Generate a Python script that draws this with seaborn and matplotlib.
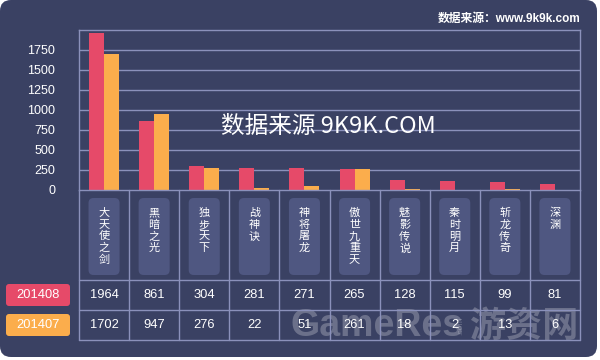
import numpy as np
import pandas as pd
import matplotlib
matplotlib.use("Agg")
import matplotlib.pyplot as plt
from matplotlib.patches import FancyBboxPatch
import seaborn as sns

categories = ['大天使之剑', '黑暗之光', '独步天下', '战神诀', '神将屠龙',
              '傲世九重天', '魅影传说', '秦时明月', '斩龙传奇', '深渊']
series_names = ['201408', '201407']
s201408 = [1964, 861, 304, 281, 271, 265, 128, 115, 99, 81]
s201407 = [1702, 947, 276, 22, 51, 261, 18, 2, 13, 6]
yticks = [0, 250, 500, 750, 1000, 1250, 1500, 1750]

RED = '#e64a69'
ORANGE = '#fbad4c'
BG = '#3a4163'
GRID = '#8b91bb'
BOX = '#4f5781'

sns.set_theme(style='white')
plt.rcParams['font.family'] = ['Liberation Sans', 'Noto Sans CJK SC', 'DejaVu Sans']

W, H = 600, 360
fig = plt.figure(figsize=(6, 3.6), dpi=100)
fig.patch.set_facecolor('white')

# background panel (pixel coordinates)
bg = fig.add_axes([0, 0, 1, 1])
bg.set_xlim(0, W)
bg.set_ylim(H, 0)
bg.axis('off')
bg.add_patch(FancyBboxPatch((0, 0), 597, 357,
                            boxstyle='round,pad=0,rounding_size=11',
                            fc=BG, ec='none'))

def px(x0, y0, x1, y1):
    return [x0 / W, 1 - y1 / H, (x1 - x0) / W, (y1 - y0) / H]

# main bar chart
ax = fig.add_axes(px(79, 30, 580, 190))
ax.set_facecolor('none')
df = pd.DataFrame({
    'game': categories * 2,
    'month': [series_names[0]] * len(categories) + [series_names[1]] * len(categories),
    'value': s201408 + s201407,
})
sns.barplot(data=df, x='game', y='value', hue='month', order=categories,
            hue_order=series_names, palette=[RED, ORANGE], width=0.6,
            saturation=1, legend=False, ax=ax, linewidth=0)
ax.set_xlim(-0.5, len(categories) - 0.5)
ax.set_ylim(0, 2000)
ax.set_yticks(yticks)
ax.set_yticklabels([str(t) for t in yticks], color='white', fontsize=9)
ax.tick_params(axis='y', length=0, pad=17)
ax.set_xticks([])
ax.set_xlabel('')
ax.set_ylabel('')
for t in yticks[1:]:
    ax.axhline(t, color=GRID, lw=1, zorder=0)
for s in ['top', 'left', 'right', 'bottom']:
    ax.spines[s].set_visible(True)
    ax.spines[s].set_color(GRID)
    ax.spines[s].set_linewidth(1)

# watermark in the middle of the chart
ax.text(328 / W, 1 - 126 / H, '数据来源 9K9K.COM', transform=fig.transFigure,
        ha='center', va='center', color='white', fontsize=17,
        family=['Noto Sans CJK SC'], zorder=5)

# table below (x: category units, y: pixels from 190)
tab = fig.add_axes(px(79, 190, 580, 340))
tab.set_facecolor('none')
tab.set_xlim(-0.5, len(categories) - 0.5)
tab.set_ylim(150, 0)
tab.axis('off')
n = len(categories)
for b in np.arange(-0.5, n, 1.0):
    tab.plot([b, b], [0, 150], color=GRID, lw=1, clip_on=False)
for yy in [90, 120, 150]:
    tab.plot([-0.5, n - 0.5], [yy, yy], color=GRID, lw=1, clip_on=False)

for i, name in enumerate(categories):
    tab.add_patch(FancyBboxPatch((i - 0.31, 8), 0.62, 77,
                                 boxstyle='round,pad=0,rounding_size=0.1',
                                 mutation_aspect=50, fc=BOX, ec='none'))
    for k, ch in enumerate(name):
        tab.text(i, 23 + k * 11.7, ch, ha='center', va='center', color='white',
                 fontsize=8.0, family=['Noto Sans CJK SC'])
    tab.text(i, 105, str(s201408[i]), ha='center', va='center',
             color='white', fontsize=9.3)
    tab.text(i, 135, str(s201407[i]), ha='center', va='center',
             color='white', fontsize=9.3)

# legend labels at the left of the table rows
bg.add_patch(FancyBboxPatch((6, 284), 64, 22, boxstyle='round,pad=0,rounding_size=3',
                            fc=RED, ec='none'))
bg.text(38, 295.5, series_names[0], ha='center', va='center', color='white', fontsize=9.3)
bg.add_patch(FancyBboxPatch((6, 314), 64, 22, boxstyle='round,pad=0,rounding_size=3',
                            fc=ORANGE, ec='none'))
bg.text(38, 325.5, series_names[1], ha='center', va='center', color='white', fontsize=9.3)

# source note
bg.text(581, 19, '数据来源：www.9k9k.com', ha='right', va='center', color='white',
        fontsize=8.5, fontweight='bold')

# GameRes watermark
bg.text(290, 326, 'GameRes', ha='left', va='center', color='white', alpha=0.25,
        fontsize=27, fontweight='bold', zorder=10)
bg.text(461, 326, '.com', ha='center', va='center', color='white', alpha=0.25,
        fontsize=6, rotation=90, zorder=10)
bg.text(470, 326, '游资网', ha='left', va='center', color='white', alpha=0.25,
        fontsize=26, fontweight='bold', family=['Noto Sans CJK SC'], zorder=10)

fig.savefig('out.png', dpi=100, facecolor=fig.get_facecolor())
